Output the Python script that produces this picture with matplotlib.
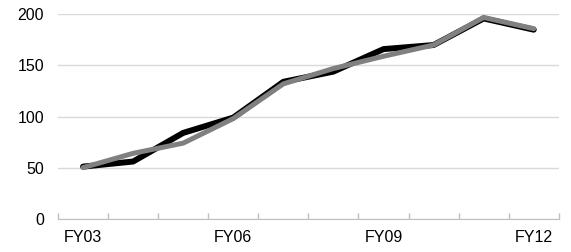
import numpy as np
import matplotlib
matplotlib.use("Agg")
import matplotlib.pyplot as plt
from matplotlib.ticker import FixedLocator

plt.rcParams['font.family'] = ['Liberation Sans', 'DejaVu Sans']
plt.rcParams['font.size'] = 11.5

years = ['FY03', 'FY04', 'FY05', 'FY06', 'FY07', 'FY08', 'FY09', 'FY10', 'FY11', 'FY12']
series_black = [51, 56, 84, 99, 134, 144, 166, 170, 196, 185]
series_gray = [50, 64, 74, 98, 132, 147, 159, 170, 197, 186]
shown_labels = ['FY03', 'FY06', 'FY09', 'FY12']

fig = plt.figure(figsize=(5.71, 2.52), dpi=100)
ax = fig.add_axes([0.1016, 0.132, 0.877, 0.811])

x = np.arange(len(years))
ax.plot(x, series_black, color='black', lw=4.3, solid_capstyle='round', solid_joinstyle='round', zorder=3)
ax.plot(x, series_gray, color='#808080', lw=3.6, solid_capstyle='round', solid_joinstyle='round', zorder=4)

ax.set_xlim(-0.5, len(years) - 0.5)
ax.set_ylim(0, 200)
ax.set_yticks([0, 50, 100, 150, 200])
ax.yaxis.grid(True, color='#d9d9d9', lw=1)
ax.set_axisbelow(True)

pos = [years.index(l) for l in shown_labels]
ax.set_xticks(pos)
ax.set_xticklabels(shown_labels)
ax.xaxis.set_minor_locator(FixedLocator(np.arange(-0.5, len(years), 1.0)))
ax.tick_params(axis='x', which='major', length=0, pad=8)
ax.tick_params(axis='x', which='minor', direction='in', length=4, color='#bfbfbf', width=1)
ax.tick_params(axis='y', length=0, pad=10)

for s in ['top', 'right', 'left']:
    ax.spines[s].set_visible(False)
ax.spines['bottom'].set_color('#bfbfbf')

plt.savefig('out.png', dpi=100)
